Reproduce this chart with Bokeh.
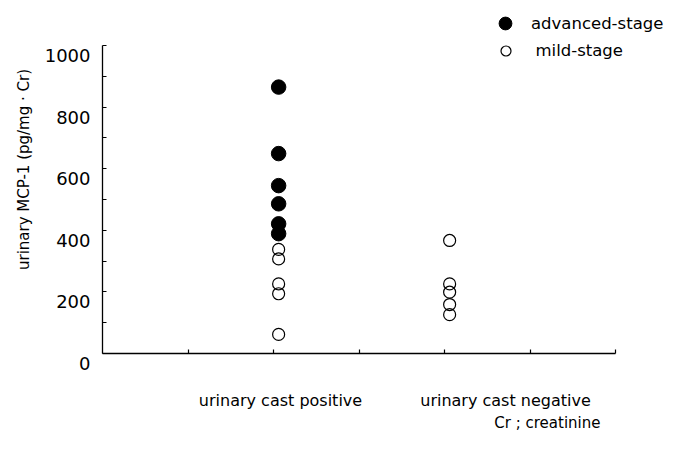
import math
from bokeh.plotting import figure
from bokeh.models import (Range1d, FixedTicker, Label, Legend, LegendItem,
                          LinearAxis, ColumnDataSource, CustomLabelingPolicy)
from bokeh.transform import dodge
from bokeh.embed import file_html
from bokeh.resources import INLINE

# ---------------- data ----------------
categories = ["urinary cast positive", "urinary cast negative"]
advanced_positive = [865, 649, 545, 486, 421, 389]
mild_positive = [338, 307, 226, 194, 62]
mild_negative = [367, 226, 199, 159, 126]
y_ticks = [0, 200, 400, 600, 800, 1000]
y_minor_ticks = [100, 300, 500, 700, 900]
x_ticks = [1, 2, 3, 4, 5, 6]
legend_labels = ["advanced-stage", "mild-stage"]
y_title = "urinary MCP-1 (pg/mg · Cr)"
footnote = "Cr ; creatinine"

# ---------------- layout ----------------
FONT = "DejaVu Sans"
W, H = 667, 437
AX_L, AX_R, AX_T, AX_B = 102, 615, 45, 353   # axis box in canvas pixels
XMAX, YMAX = 6, 1000
ppx = (AX_R - AX_L) / XMAX
ppy = (AX_B - AX_T) / YMAX
x0 = -AX_L / ppx
x1 = x0 + W / ppx
y1 = YMAX + AX_T / ppy
y0 = -(H - AX_B) / ppy
cat_x = [2, 4]

p = figure(width=W, height=H, output_backend="svg", toolbar_location=None,
           x_range=Range1d(x0, x1), y_range=Range1d(y0, y1),
           x_axis_type=None, y_axis_type=None,
           min_border=0, min_border_left=0, min_border_right=0,
           min_border_top=0, min_border_bottom=0)
p.outline_line_color = None
p.background_fill_color = "white"
p.border_fill_color = "white"
p.xgrid.visible = False
p.ygrid.visible = False

hide = CustomLabelingPolicy(code="""
const ids = [...indices];
for (const i of ids) indices.unset(i);
return indices;
""")
yaxis = LinearAxis(ticker=FixedTicker(ticks=y_ticks, minor_ticks=y_minor_ticks),
                   bounds=(0, YMAX), fixed_location=0)
xaxis = LinearAxis(ticker=FixedTicker(ticks=x_ticks), bounds=(0, XMAX),
                   fixed_location=0)
for ax in (yaxis, xaxis):
    ax.axis_line_color = "black"
    ax.axis_line_width = 1.3
    ax.major_tick_line_color = "black"
    ax.major_tick_line_width = 1.2
    ax.minor_tick_line_color = "black"
    ax.minor_tick_line_width = 1.2
    ax.major_tick_in = 4
    ax.major_tick_out = 0
    ax.minor_tick_in = 4
    ax.minor_tick_out = 0
    ax.major_label_policy = hide
p.add_layout(yaxis, "left")
p.add_layout(xaxis, "below")

# ---------------- data marks ----------------
adv_src = ColumnDataSource(dict(x=[cat_x[0]] * len(advanced_positive),
                                y=advanced_positive))
mild_src = ColumnDataSource(dict(
    x=[cat_x[0]] * len(mild_positive) + [cat_x[1]] * len(mild_negative),
    y=mild_positive + mild_negative))

r_mild = p.scatter(x=dodge("x", 0.06, range=p.x_range), y="y", source=mild_src,
                   size=12, fill_color=None, line_color="black", line_width=1.2)
r_adv = p.scatter(x=dodge("x", 0.06, range=p.x_range), y="y", source=adv_src,
                  size=14.5, fill_color="black", line_color="black")

# ---------------- legends ----------------
def make_legend(label, rend, gsize, cx, cy, text_left):
    left = cx - gsize / 2
    top = cy - gsize / 2
    lg = Legend(items=[LegendItem(label=label, renderers=[rend])],
                location=(left, H - top - gsize), glyph_width=gsize,
                glyph_height=gsize,
                label_standoff=int(round(text_left - left - gsize)),
                padding=0, margin=0, spacing=0,
                border_line_color=None, background_fill_alpha=0,
                label_text_font=FONT, label_text_font_size="16.5px",
                label_text_color="black", label_height=10)
    p.add_layout(lg, "center")

make_legend(legend_labels[0], r_adv, 32, 505, 23, 531)
make_legend(legend_labels[1], r_mild, 25, 505, 50, 535)

# ---------------- texts ----------------
for v in y_ticks:
    p.add_layout(Label(x=0, y=v, x_offset=-12, y_offset=-10, text=str(v),
                       text_align="right", text_baseline="middle",
                       text_font=FONT, text_font_size="18px", text_color="black"))

cat_offsets = [7, 61]
for cx, name, off in zip(cat_x, categories, cat_offsets):
    p.add_layout(Label(x=cx, y=0, x_offset=off, y_offset=-47, text=name,
                       text_align="center", text_baseline="middle",
                       text_font=FONT, text_font_size="16px", text_color="black"))

p.add_layout(Label(x=XMAX, y=0, x_offset=-15, y_offset=-69, text=footnote,
                   text_align="right", text_baseline="middle",
                   text_font=FONT, text_font_size="15px", text_color="black"))

p.add_layout(Label(x=0, y=0, x_offset=23 - AX_L, y_offset=AX_B - 169,
                   angle=math.pi / 2, text=y_title,
                   text_align="center", text_baseline="middle",
                   text_font=FONT, text_font_size="15px", text_color="black"))

open("out.html", "w").write(file_html(p, INLINE))
